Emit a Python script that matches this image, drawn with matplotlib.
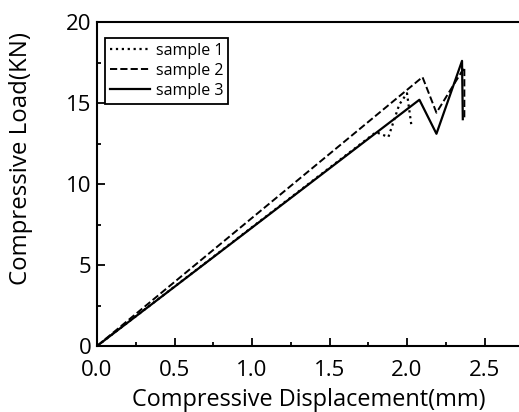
import matplotlib
matplotlib.use('Agg')
import matplotlib.pyplot as plt
from matplotlib.ticker import MultipleLocator

# load-displacement curves
s1_x = [0.0, 1.80, 1.88, 1.95, 2.00, 2.03]
s1_y = [0.0, 13.2, 12.9, 14.9, 15.6, 13.5]

s2_x = [0.0, 2.10, 2.19, 2.37, 2.37]
s2_y = [0.0, 16.6, 14.4, 17.2, 14.0]

s3_x = [0.0, 2.08, 2.19, 2.355, 2.36]
s3_y = [0.0, 15.2, 13.1, 17.6, 14.0]

plt.rcParams['font.family'] = ['Open Sans', 'DejaVu Sans']

fig = plt.figure(figsize=(5.19, 4.12), dpi=100)
ax = fig.add_axes([97/519, 1-346/412, (519-97)/519, (346-22)/412])

ax.plot(s1_x, s1_y, color='black', linestyle=':', linewidth=1.6, label='sample 1')
ax.plot(s2_x, s2_y, color='black', linestyle='--', linewidth=1.4, label='sample 2')
ax.plot(s3_x, s3_y, color='black', linestyle='-', linewidth=1.6, label='sample 3')

ax.set_xlim(0, 422/155)
ax.set_ylim(0, 20)
ax.xaxis.set_major_locator(MultipleLocator(0.5))
ax.xaxis.set_minor_locator(MultipleLocator(0.25))
ax.yaxis.set_major_locator(MultipleLocator(5))
ax.yaxis.set_minor_locator(MultipleLocator(2.5))
ax.tick_params(which='both', direction='in', width=1.3, labelsize=16)
ax.tick_params(axis='x', pad=10)
ax.tick_params(axis='y', pad=4)
ax.tick_params(which='major', length=6)
ax.tick_params(which='minor', length=3)
ax.spines['right'].set_visible(False)
for sp in ['left', 'bottom', 'top']:
    ax.spines[sp].set_linewidth(1.5)

ax.set_xlabel('Compressive Displacement(mm)', fontsize=16.9)
ax.xaxis.set_label_coords(0.502, -0.13)
ax.set_ylabel('Compressive Load(KN)', fontsize=17.3)
ax.yaxis.set_label_coords(-0.152, 0.58)

leg = ax.legend(loc='upper left', bbox_to_anchor=(8/422, 1-16/324),
                fontsize=11.5, frameon=True, fancybox=False,
                edgecolor='black', framealpha=1, handlelength=2.5,
                handletextpad=0.4, labelspacing=0.25, borderpad=0.3,
                borderaxespad=0.0)
leg.get_frame().set_linewidth(1.3)

plt.savefig('out.png', dpi=100)
